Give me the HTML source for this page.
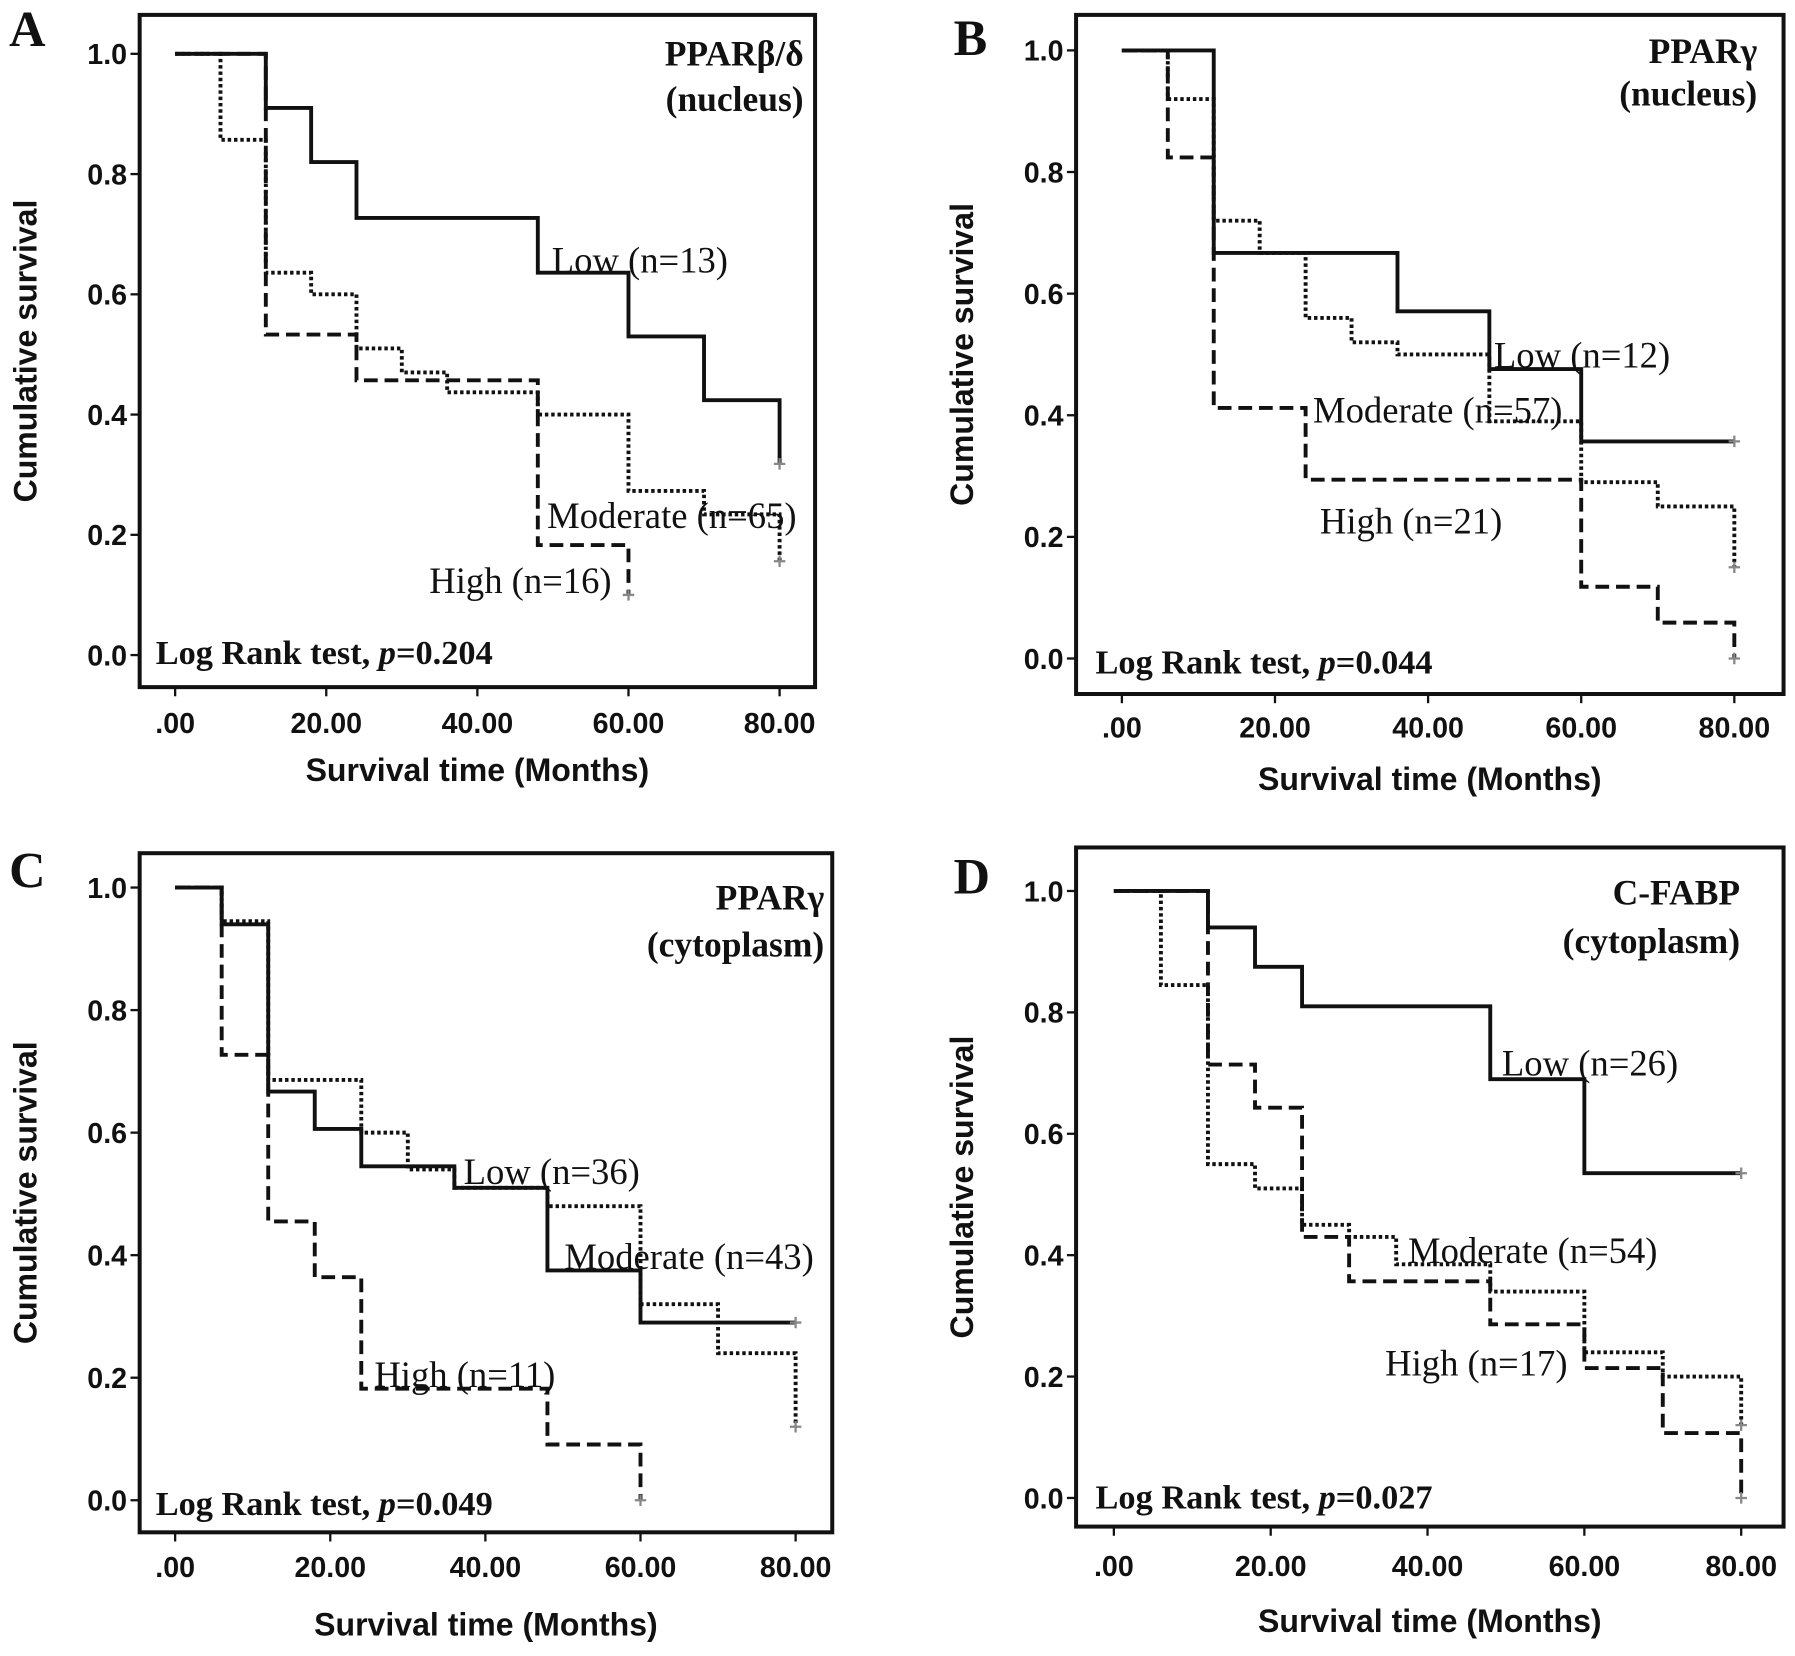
<!DOCTYPE html>
<html><head><meta charset="utf-8"><style>
html,body{margin:0;padding:0;background:#fff;}
svg{display:block;}
.tick{font-family:"Liberation Sans",sans-serif;font-weight:bold;font-size:25px;fill:#111;}
.atitle{font-family:"Liberation Sans",sans-serif;font-weight:bold;font-size:28px;fill:#111;}
.ann{font-family:"Liberation Serif",serif;font-size:32px;fill:#111;}
.ptitle{font-family:"Liberation Serif",serif;font-weight:bold;font-size:31px;fill:#111;}
.lr{font-family:"Liberation Serif",serif;font-weight:bold;font-size:30px;fill:#111;}
.letter{font-family:"Liberation Serif",serif;font-weight:bold;font-size:44px;fill:#111;}
</style></head><body>
<svg id="fig" width="1795" height="1656" viewBox="0 0 1568 1446" preserveAspectRatio="none" xmlns="http://www.w3.org/2000/svg"></svg>
<script>
// Panel A data
const aLowT=[0,12,18,24,48,60,70,80];
const aLowS=[1,0.91,0.82,0.727,0.636,0.53,0.424,0.318];
const aModT=[0,6,12,18,24,30,36,48,60,70,80];
const aModS=[1,0.857,0.636,0.60,0.51,0.47,0.437,0.40,0.273,0.234,0.156];
const aHighT=[0,12,24,48,60];
const aHighS=[1,0.533,0.457,0.183,0.10];
// Panel B data
const bLowT=[0,12,36,48,60,80];
const bLowS=[1,0.667,0.571,0.476,0.357,0.357];
const bModT=[0,6,12,18,24,30,36,48,60,70,80];
const bModS=[1,0.92,0.72,0.667,0.56,0.52,0.50,0.39,0.29,0.25,0.15];
const bHighT=[0,6,12,24,60,70,80];
const bHighS=[1,0.824,0.412,0.294,0.118,0.059,0.0];
// Panel C data
const cLowT=[0,6,12,18,24,36,48,60,80];
const cLowS=[1,0.94,0.667,0.606,0.545,0.51,0.375,0.29,0.29];
const cModT=[0,6,12,24,30,36,48,60,70,80];
const cModS=[1,0.945,0.686,0.60,0.54,0.51,0.48,0.32,0.24,0.12];
const cHighT=[0,6,12,18,24,48,60];
const cHighS=[1,0.727,0.455,0.364,0.182,0.091,0.0];
// Panel D data
const dLowT=[0,12,18,24,48,60,80];
const dLowS=[1,0.94,0.875,0.81,0.69,0.535,0.535];
const dModT=[0,6,12,18,24,30,36,48,60,70,80];
const dModS=[1,0.845,0.55,0.51,0.45,0.43,0.385,0.34,0.24,0.20,0.12];
const dHighT=[0,12,18,24,30,48,60,70,80];
const dHighS=[1,0.714,0.643,0.43,0.357,0.286,0.214,0.107,0.0];

const xTicks=[0,20,40,60,80];
const xTickLabels=[".00","20.00","40.00","60.00","80.00"];
const yTicks=[0,0.2,0.4,0.6,0.8,1.0];
const yTickLabels=["0.0","0.2","0.4","0.6","0.8","1.0"];

const NS="http://www.w3.org/2000/svg";
const svg=document.getElementById('fig');
function mk(tag,attrs,parent){const e=document.createElementNS(NS,tag);for(const k in attrs)e.setAttribute(k,attrs[k]);(parent||svg).appendChild(e);return e;}

const panels=[
 {id:'a',letter:'A',lx:8,ly:40,fl:122,ft:13,fr:712,fb:600,x0:153,x80:681,y1:47,y0:572,
  series:[[aLowT,aLowS,'solid'],[aModT,aModS,'dotted'],[aHighT,aHighS,'dashed']],
  t1:'PPARβ/δ',t2:'(nucleus)',tx:702,ty1:57,ty2:97,
  anns:[['Low (n=13)',482,227],['Moderate (n=65)',478,450],['High (n=16)',375,507]],
  lrx:136,lry:580,xtY:640,xtitleY:682},
 {id:'b',letter:'B',lx:833,ly:48,fl:940,ft:13,fr:1558,fb:606,x0:980,x80:1515,y1:44,y0:575,
  series:[[bLowT,bLowS,'solid'],[bModT,bModS,'dotted'],[bHighT,bHighS,'dashed']],
  t1:'PPARγ',t2:'(nucleus)',tx:1535,ty1:55,ty2:92,
  anns:[['Low (n=12)',1305,310],['Moderate (n=57)',1147,358],['High (n=21)',1153,455]],
  lrx:957,lry:588,xtY:644,xtitleY:690},
 {id:'c',letter:'C',lx:8,ly:775,fl:122,ft:745,fr:727,fb:1338,x0:153,x80:695,y1:775,y0:1310,
  series:[[cLowT,cLowS,'solid'],[cModT,cModS,'dotted'],[cHighT,cHighS,'dashed']],
  t1:'PPARγ',t2:'(cytoplasm)',tx:720,ty1:794,ty2:835,
  anns:[['Low (n=36)',405,1023],['Moderate (n=43)',493,1097],['High (n=11)',327,1200]],
  lrx:136,lry:1323,xtY:1377,xtitleY:1428},
 {id:'d',letter:'D',lx:833,ly:780,fl:940,ft:740,fr:1558,fb:1333,x0:973,x80:1521,y1:778,y0:1308,
  series:[[dLowT,dLowS,'solid'],[dModT,dModS,'dotted'],[dHighT,dHighS,'dashed']],
  t1:'C-FABP',t2:'(cytoplasm)',tx:1520,ty1:790,ty2:832,
  anns:[['Low (n=26)',1312,928],['Moderate (n=54)',1230,1092],['High (n=17)',1210,1190]],
  lrx:957,lry:1317,xtY:1376,xtitleY:1425}
];

panels.forEach(p=>{
  const g=mk('g',{});
  
  
  const X=t=>p.x0+(p.x80-p.x0)*t/80;
  const Y=s=>p.y0+(p.y1-p.y0)*s;
  const L=mk('text',{x:p.lx,y:p.ly,class:'letter'},g);L.textContent=p.letter;
  
  
  const fr=mk('rect',{x:p.fl,y:p.ft,width:p.fr-p.fl,height:p.fb-p.ft,fill:'none',stroke:'#111','stroke-width':3.5},g);
  
  
  xTicks.forEach((t,i)=>{
    mk('line',{x1:X(t),x2:X(t),y1:p.fb,y2:p.fb+8,stroke:'#111','stroke-width':2},g);
    const tx=mk('text',{x:X(t),y:p.xtY,class:'tick','text-anchor':'middle'},g);
    tx.textContent=xTickLabels[i];
    
    
  });
  yTicks.forEach((v,i)=>{
    mk('line',{x1:p.fl-8,x2:p.fl,y1:Y(v),y2:Y(v),stroke:'#111','stroke-width':2},g);
    const ty=mk('text',{x:p.fl-11,y:Y(v)+9,class:'tick','text-anchor':'end'},g);
    ty.textContent=yTickLabels[i];
    
    
  });
  const xt=mk('text',{x:(p.fl+p.fr)/2,y:p.xtitleY,class:'atitle','text-anchor':'middle'},g);
  xt.textContent='Survival time (Months)';
  
  
  const cy=(p.ft+p.fb)/2;
  const yt=mk('text',{x:0,y:0,class:'atitle','text-anchor':'middle',transform:`translate(${p.fl-90},${cy}) rotate(-90)`},g);
  yt.textContent='Cumulative survival';
  
  
  p.series.forEach(([T,S,style])=>{
    let d=`M${X(T[0])},${Y(S[0])}`;
    for(let i=1;i<T.length;i++){d+=` H${X(T[i])} V${Y(S[i])}`;}
    const dash=style==='dotted'?'3,2.5':style==='dashed'?'12,6':'none';
    const path=mk('path',{d:d,fill:'none',stroke:'#111','stroke-width':3.4,'stroke-dasharray':dash},g);
    
    
    const last=T.length-1;
    const cm=mk('path',{d:`M${X(T[last])-5},${Y(S[last])} h10 M${X(T[last])},${Y(S[last])-5} v10`,stroke:'#888','stroke-width':2},g);
    
    
  });
  const t1=mk('text',{x:p.tx,y:p.ty1,class:'ptitle','text-anchor':'end'},g);t1.textContent=p.t1;
  
  
  const t2=mk('text',{x:p.tx,y:p.ty2,class:'ptitle','text-anchor':'end'},g);t2.textContent=p.t2;
  
  
  p.anns.forEach(a=>{
    const e=mk('text',{x:a[1],y:a[2]+11,class:'ann'},g);e.textContent=a[0];
    
    
  });
  const lr=mk('text',{x:p.lrx,y:p.lry,class:'lr'},g);
  lr.innerHTML='Log Rank test, <tspan font-style="italic">p</tspan>='+({a:'0.204',b:'0.044',c:'0.049',d:'0.027'})[p.id];
  
  
});
</script>
</body></html>
